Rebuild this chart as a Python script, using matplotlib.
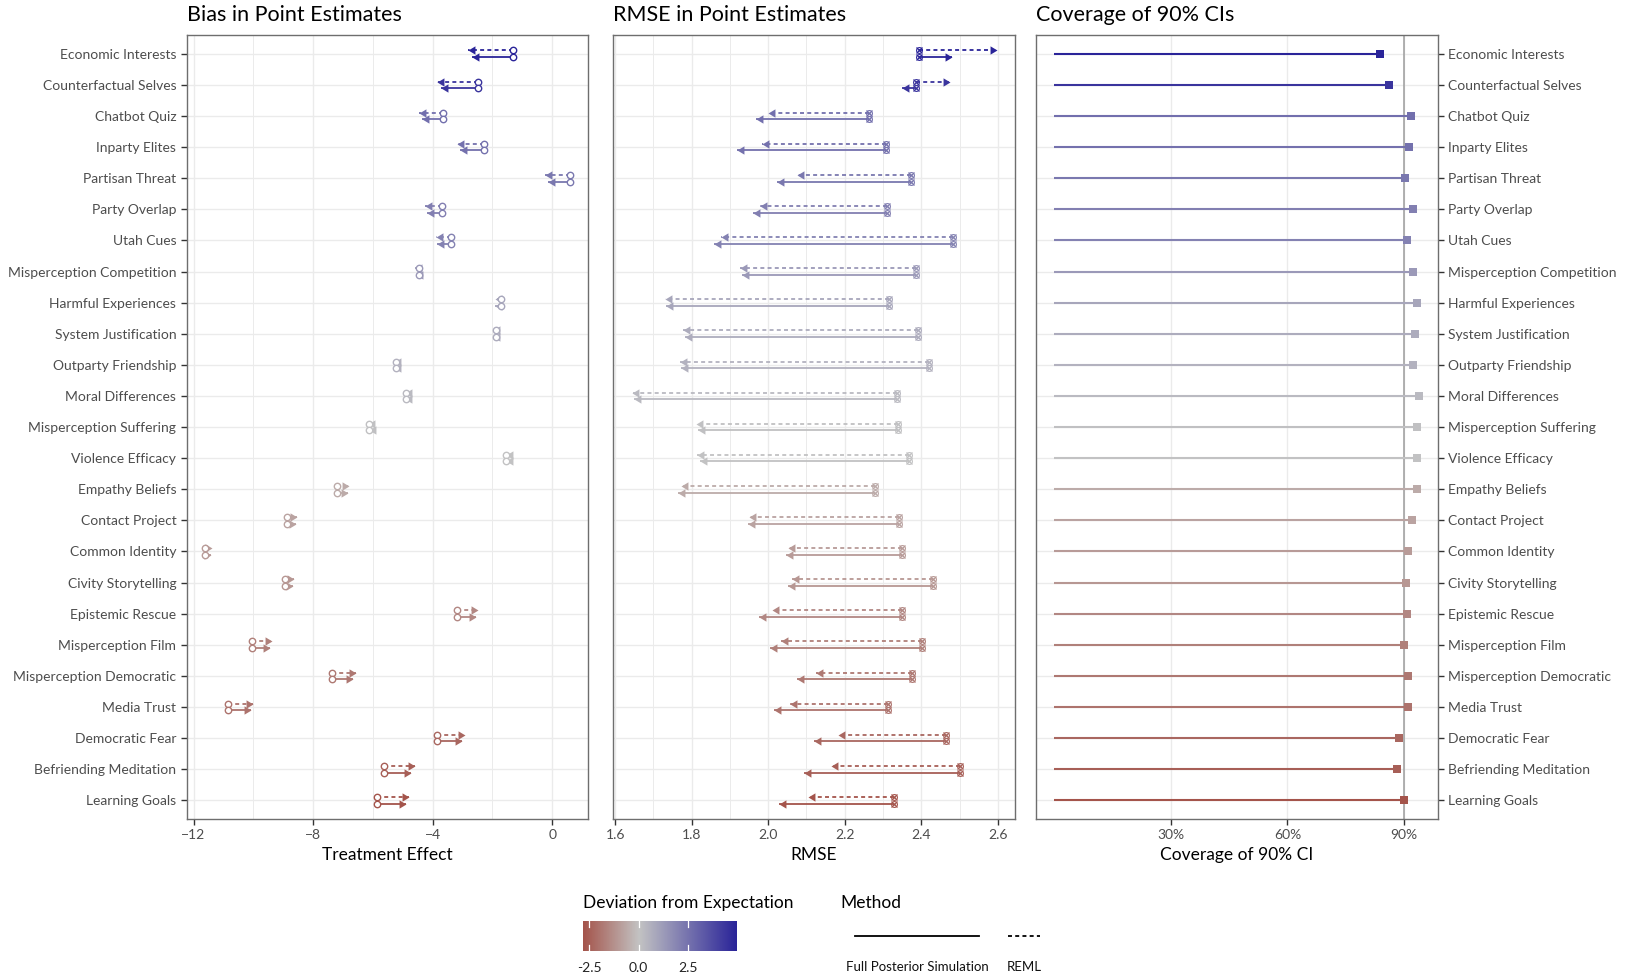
import matplotlib
matplotlib.use("Agg")
import matplotlib.pyplot as plt
import numpy as np
from matplotlib.colors import LinearSegmentedColormap, TwoSlopeNorm
from matplotlib.path import Path
from matplotlib.lines import Line2D
from matplotlib.ticker import MultipleLocator, FixedLocator

plt.rcParams['font.family'] = ['Lato', 'DejaVu Sans']

topics = ["Economic Interests", "Counterfactual Selves", "Chatbot Quiz", "Inparty Elites",
          "Partisan Threat", "Party Overlap", "Utah Cues", "Misperception Competition",
          "Harmful Experiences", "System Justification", "Outparty Friendship",
          "Moral Differences", "Misperception Suffering", "Violence Efficacy",
          "Empathy Beliefs", "Contact Project", "Common Identity", "Civity Storytelling",
          "Epistemic Rescue", "Misperception Film", "Misperception Democratic",
          "Media Trust", "Democratic Fear", "Befriending Meditation", "Learning Goals"]

deviation = [4.9, 4.4, 2.6, 2.5, 2.3, 2.1, 2.0, 1.3, 0.9, 0.7, 0.5, 0.3, 0.1, 0.0,
             -0.6, -0.8, -1.0, -1.1, -1.5, -1.7, -1.9, -2.0, -2.3, -2.5, -2.8]

bias_start = [-1.32, -2.47, -3.67, -2.27, 0.59, -3.70, -3.39, -4.45, -1.73, -1.88, -5.23,
              -4.89, -6.12, -1.53, -7.21, -8.86, -11.62, -8.94, -3.18, -10.05, -7.36,
              -10.86, -3.87, -5.62, -5.85]
bias_reml = [-2.81, -3.85, -4.45, -3.18, -0.24, -4.26, -3.90, -4.59, -1.92, -1.99, -5.29,
             -4.93, -6.15, -1.56, -6.80, -8.55, -11.39, -8.63, -2.50, -9.36, -6.57,
             -10.00, -2.92, -4.59, -4.78]
bias_fps = [-2.70, -3.72, -4.37, -3.09, -0.13, -4.20, -3.85, -4.57, -1.90, -1.98, -5.28,
            -4.92, -6.14, -1.55, -6.85, -8.58, -11.42, -8.66, -2.55, -9.44, -6.66,
            -10.09, -3.03, -4.72, -4.90]

rmse_start = [2.393, 2.386, 2.263, 2.309, 2.373, 2.311, 2.484, 2.385, 2.317, 2.392, 2.421,
              2.336, 2.340, 2.369, 2.280, 2.343, 2.349, 2.431, 2.349, 2.403, 2.376, 2.312,
              2.464, 2.501, 2.328]
rmse_reml = [2.597, 2.475, 2.000, 1.984, 2.076, 1.979, 1.877, 1.926, 1.730, 1.776, 1.769,
             1.643, 1.812, 1.815, 1.773, 1.949, 2.052, 2.061, 2.010, 2.034, 2.125, 2.057,
             2.183, 2.164, 2.105]
rmse_fps = [2.481, 2.349, 1.968, 1.919, 2.024, 1.959, 1.858, 1.931, 1.734, 1.782, 1.773,
            1.650, 1.816, 1.821, 1.763, 1.946, 2.046, 2.052, 1.977, 2.005, 2.076, 2.014,
            2.120, 2.094, 2.029]

coverage = [0.839, 0.860, 0.918, 0.913, 0.903, 0.923, 0.907, 0.923, 0.934, 0.928, 0.923,
            0.938, 0.934, 0.934, 0.934, 0.921, 0.910, 0.905, 0.907, 0.899, 0.910, 0.910,
            0.886, 0.881, 0.899]

cmap = LinearSegmentedColormap.from_list("dev", ["#a4544b", "#c3c3c3", "#2a2499"])
norm = TwoSlopeNorm(vmin=-2.8, vcenter=0, vmax=4.9)

head_r = Path([(0, 0), (-1, 0.6), (-1, -0.6), (0, 0)], [1, 2, 2, 79])
head_l = Path([(0, 0), (1, 0.6), (1, -0.6), (0, 0)], [1, 2, 2, 79])

grid_c = "#ebebeb"
text_c = "#4d4d4d"
border_c = "#6e6e6e"

fig = plt.figure(figsize=(16.25, 9.75), dpi=100)
ax1 = fig.add_axes([0.1149, 0.160, 0.2470, 0.804])
ax2 = fig.add_axes([0.3774, 0.160, 0.2472, 0.804])
ax3 = fig.add_axes([0.6375, 0.160, 0.2474, 0.804])

y = np.arange(len(topics))
off = 0.107


def style(ax):
    ax.set_facecolor("white")
    for s in ax.spines.values():
        s.set_color(border_c)
        s.set_linewidth(1.0)
    ax.set_ylim(len(topics) - 0.4, -0.6)
    ax.set_yticks(y)
    ax.grid(which="major", color=grid_c, linewidth=1.0)
    ax.grid(which="minor", axis="x", color=grid_c, linewidth=0.7)
    ax.set_axisbelow(True)
    ax.tick_params(axis="both", which="major", labelsize=10, length=4, width=1,
                   colors="#333333", labelcolor=text_c)
    ax.tick_params(axis="x", which="minor", length=0)


def arrows(ax, starts, ends, dy, ls, start_marker):
    for i in range(len(topics)):
        c = cmap(norm(deviation[i]))
        yy = i + dy
        ax.plot([starts[i], ends[i]], [yy, yy], color=c, lw=1.3, linestyle=ls,
                solid_capstyle="butt", dash_capstyle="butt", zorder=3)
        head = head_l if ends[i] < starts[i] else head_r
        ax.plot([ends[i]], [yy], marker=head, ms=10, color=c, mew=0, zorder=4)
        if start_marker == "o":
            ax.plot([starts[i]], [yy], marker="o", ms=4.6, mfc="white", mec=c, mew=1.0,
                    zorder=5)
        else:
            ax.plot([starts[i]], [yy], marker="o", ms=4.2, mfc="none", mec=c, mew=0.8,
                    zorder=5)
            ax.plot([starts[i]], [yy], marker="x", ms=5.0, color=c, mew=0.9, zorder=5)


# bias panel
style(ax1)
arrows(ax1, bias_start, bias_reml, -off, (0, (2.2, 1.8)), "o")
arrows(ax1, bias_start, bias_fps, off, "-", "o")
ax1.set_xlim(-12.23, 1.2)
ax1.xaxis.set_major_locator(FixedLocator([-12, -8, -4, 0]))
ax1.xaxis.set_minor_locator(FixedLocator([-10, -6, -2]))
ax1.set_yticklabels(topics)
ax1.set_xlabel("Treatment Effect", fontsize=12.5, labelpad=4)

# rmse panel
style(ax2)
arrows(ax2, rmse_start, rmse_reml, -off, (0, (2.2, 1.8)), "x")
arrows(ax2, rmse_start, rmse_fps, off, "-", "x")
ax2.set_xlim(1.595, 2.645)
ax2.xaxis.set_minor_locator(FixedLocator(np.arange(1.7, 2.65, 0.2)))
ax2.set_xticks([1.6, 1.8, 2.0, 2.2, 2.4, 2.6])
ax2.set_xticklabels(["1.6", "1.8", "2.0", "2.2", "2.4", "2.6"])
ax2.tick_params(axis="y", length=0, labelleft=False)
ax2.set_xlabel("RMSE", fontsize=12.5, labelpad=4)

# coverage panel
style(ax3)
ax3.grid(which="minor", visible=False)
ax3.set_xlim(-0.047, 0.987)
ax3.set_xticks([0.3, 0.6, 0.9])
ax3.set_xticklabels(["30%", "60%", "90%"])
ax3.axvline(0.9, color="#9c9c9c", lw=1.1, zorder=2)
for i in range(len(topics)):
    c = cmap(norm(deviation[i]))
    ax3.plot([0, coverage[i]], [i, i], color=c, lw=1.5, solid_capstyle="butt", zorder=3)
    ax3.plot([coverage[i]], [i], marker="s", ms=5.2, color=c, mew=0, zorder=4)
ax3.yaxis.tick_right()
ax3.set_yticklabels(topics)
ax3.set_xlabel("Coverage of 90% CI", fontsize=12.5, labelpad=4)

# titles
fig.text(0.1149, 0.978, "Bias in Point Estimates", fontsize=15.5, va="baseline", ha="left")
fig.text(0.3774, 0.978, "RMSE in Point Estimates", fontsize=15.5, va="baseline", ha="left")
fig.text(0.6375, 0.978, "Coverage of 90% CIs", fontsize=15.5, va="baseline", ha="left")

# colour legend
fig.text(0.3588, 0.0738, "Deviation from Expectation", fontsize=12.5, va="center", ha="left")
cax = fig.add_axes([0.3588, 0.0246, 0.0942, 0.0308])
grad = np.linspace(-2.8, 4.9, 300).reshape(1, -1)
cax.imshow(grad, cmap=cmap, norm=norm, aspect="auto", extent=[-2.8, 4.9, 0, 1])
cax.set_xlim(-2.8, 4.9)
cax.set_ylim(0, 1)
for v in [-2.5, 0.0, 2.5]:
    cax.plot([v, v], [0, 0.2], color="white", lw=0.9)
    cax.plot([v, v], [0.8, 1], color="white", lw=0.9)
    fig.text(0.3588 + 0.0942 * (v + 2.8) / 7.7, 0.0075, f"{v:.1f}", fontsize=10,
             ha="center", va="center", color="#222222")
cax.set_xticks([])
cax.set_yticks([])
for s in cax.spines.values():
    s.set_visible(False)

# method legend
fig.text(0.5169, 0.0738, "Method", fontsize=12.5, va="center", ha="left")
fig.add_artist(Line2D([0.5262, 0.6025], [0.040, 0.040], color="black", lw=1.3,
                      transform=fig.transFigure))
fig.add_artist(Line2D([0.6203, 0.6400], [0.040, 0.040], color="black", lw=1.3,
                      linestyle=(0, (2.2, 1.8)), transform=fig.transFigure))
fig.text(0.5643, 0.0082, "Full Posterior Simulation", fontsize=9.5, ha="center",
         va="center", color="#111111")
fig.text(0.6300, 0.0082, "REML", fontsize=9.5, ha="center", va="center", color="#111111")

fig.savefig("out.png", dpi=100, facecolor="white")
